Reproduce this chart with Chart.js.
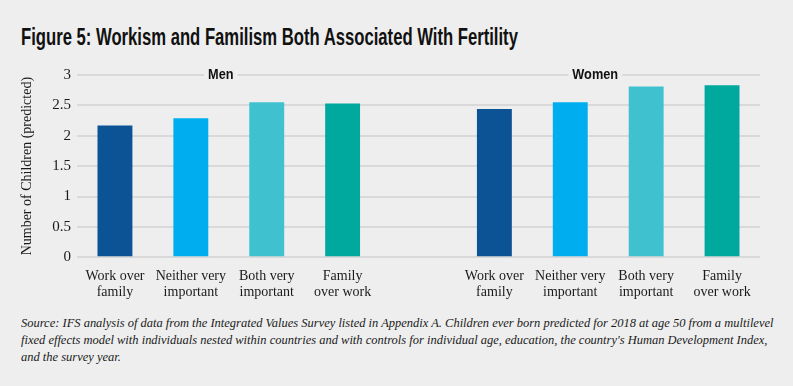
<!DOCTYPE html>
<html>
<head>
<meta charset="utf-8">
<script src="https://cdn.jsdelivr.net/npm/chart.js@4"></script>
<style>
  body { margin: 0; background: #eeeeee; width: 793px; height: 386px; overflow: hidden; position: relative; }
  #title { position: absolute; left: 21px; top: 25px; font: bold 24px/24px "Liberation Sans Narrow", sans-serif; color: #111; white-space: nowrap; transform-origin: left top; }
  #chartBox { position: absolute; left: 0; top: 60px; width: 775px; height: 245px; }
  #source { position: absolute; left: 21px; top: 314px; font: italic 13px/17px "Liberation Serif", "Times New Roman", "DejaVu Serif", serif; color: #1a1a1a; }
  #source div { white-space: nowrap; transform-origin: left top; }
</style>
</head>
<body>
<div id="title">Figure 5: Workism and Familism Both Associated With Fertility</div>
<div id="chartBox"><canvas id="chart"></canvas></div>
<div id="source">
  <div>Source: IFS analysis of data from the Integrated Values Survey listed in Appendix A. Children ever born predicted for 2018 at age 50 from a multilevel</div>
  <div>fixed effects model with individuals nested within countries and with controls for individual age, education, the country's Human Development Index,</div>
  <div>and the survey year.</div>
</div>
<script>
/* values */
var categories = [['Work over', 'family'], ['Neither very', 'important'], ['Both very', 'important'], ['Family', 'over work']];
var groups = ['Men', 'Women'];
var menValues = [2.17, 2.29, 2.55, 2.53];
var womenValues = [2.44, 2.55, 2.81, 2.83];
var barColors = ['#0b5394', '#00aeef', '#40c1cf', '#00a99e'];
var yTicks = { min: 0, max: 3, step: 0.5 };

var serif = '"Liberation Serif", "Times New Roman", "DejaVu Serif", serif';

/* fit title and source text to their widths in the original */
var title = document.getElementById('title');
title.style.transform = 'scaleX(' + (497 / title.scrollWidth) + ')';
var srcLines = document.querySelectorAll('#source div');
var srcScale = 752 / srcLines[0].scrollWidth;
srcLines.forEach(function (d) { d.style.transform = 'scaleX(' + srcScale + ')'; });

/* one empty slot between the two groups */
var labels = categories.concat([''], categories);
var values = menValues.concat([null], womenValues);
var colors = barColors.concat(['rgba(0,0,0,0)'], barColors);

var groupLabels = {
    id: 'groupLabels',
    afterDatasetsDraw: function (chart) {
        var ctx = chart.ctx;
        var x = chart.scales.x;
        var top = chart.chartArea.top;
        var shifts = [-8, -13];
        ctx.save();
        ctx.font = 'bold 15px "Liberation Sans Narrow", sans-serif';
        ctx.textAlign = 'center';
        ctx.textBaseline = 'middle';
        groups.forEach(function (g, i) {
            var first = i * (categories.length + 1);
            var last = first + categories.length - 1;
            var cx = (x.getPixelForValue(first) + x.getPixelForValue(last)) / 2 + shifts[i];
            var w = ctx.measureText(g).width * 0.85;
            ctx.fillStyle = '#eeeeee';
            ctx.fillRect(cx - w / 2 - 4, top - 3, w + 8, 6);
            ctx.save();
            ctx.translate(cx, top);
            ctx.scale(0.85, 1);
            ctx.fillStyle = '#111';
            ctx.fillText(g, 0, 0);
            ctx.restore();
        });
        ctx.restore();
    }
};

new Chart(document.getElementById('chart'), {
    type: 'bar',
    data: {
        labels: labels,
        datasets: [{
            data: values,
            backgroundColor: colors,
            barPercentage: 0.46,
            categoryPercentage: 1
        }]
    },
    options: {
        responsive: true,
        maintainAspectRatio: false,
        animation: false,
        layout: { padding: { top: 12.7, right: 15, left: 0, bottom: 0 } },
        plugins: { legend: { display: false }, tooltip: { enabled: false } },
        scales: {
            x: {
                grid: { display: false },
                border: { display: false },
                ticks: {
                    color: '#1a1a1a',
                    padding: 3,
                    maxRotation: 0,
                    autoSkip: false,
                    font: { family: serif, size: 14, lineHeight: 1.15 }
                },
                afterFit: function (s) { s.height = 47.7; }
            },
            y: {
                min: yTicks.min,
                max: yTicks.max,
                grid: { color: '#d9d9d9', lineWidth: 2, drawTicks: false },
                border: { display: false },
                ticks: {
                    stepSize: yTicks.step,
                    color: '#1a1a1a',
                    padding: 6,
                    font: { family: serif, size: 15 },
                    callback: function (v) { return String(v); }
                },
                title: {
                    display: true,
                    text: 'Number of Children (predicted)',
                    color: '#1a1a1a',
                    padding: { top: 19, bottom: 0 },
                    font: { family: serif, size: 14 }
                },
                afterFit: function (s) { s.width = 77; }
            }
        }
    },
    plugins: [groupLabels]
});
</script>
</body>
</html>
